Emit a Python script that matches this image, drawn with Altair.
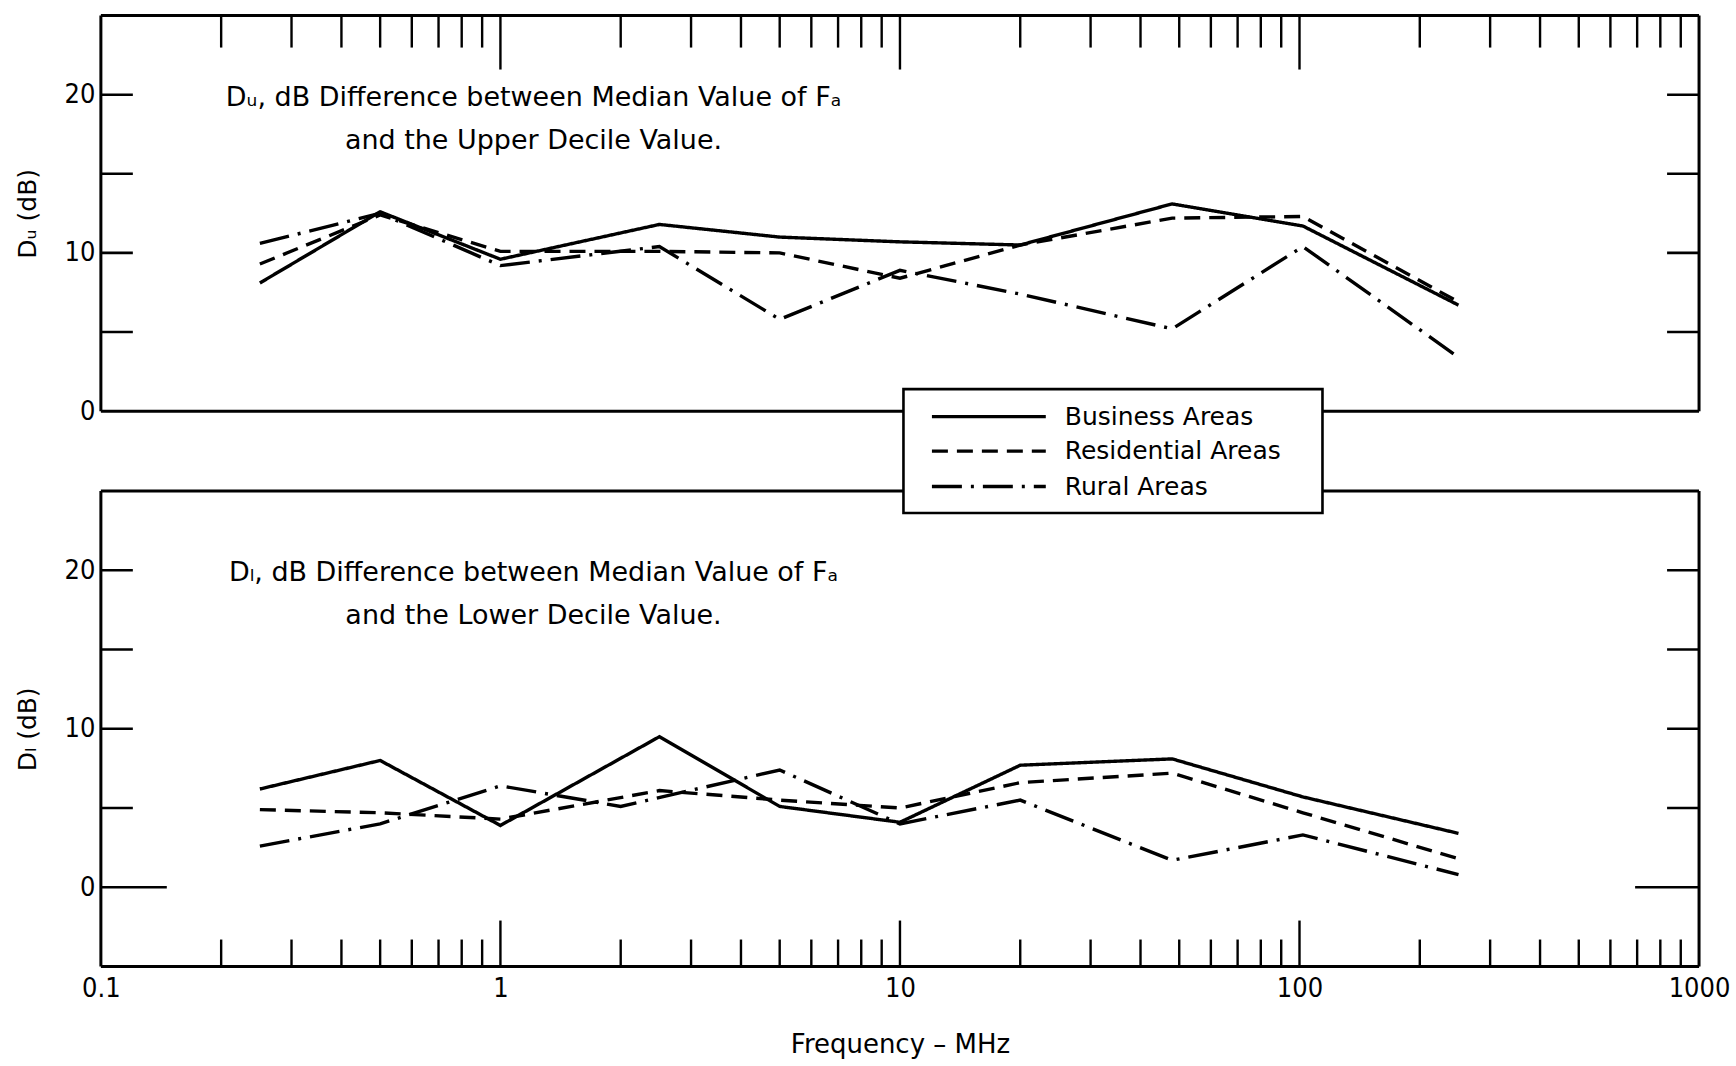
import altair as alt
import pandas as pd

# ---------------- data ----------------
freqs = [0.25, 0.5, 1, 2.5, 5, 10, 20, 48, 102, 250]          # MHz
freqs_rural_lower = [0.25, 0.5, 1, 2, 5, 10, 20, 48, 102, 250]

series_names = ["Business Areas", "Residential Areas", "Rural Areas"]

du_business = [8.1, 12.6, 9.6, 11.8, 11.0, 10.7, 10.5, 13.1, 11.7, 6.7]
du_residential = [9.3, 12.4, 10.1, 10.1, 10.0, 8.4, 10.5, 12.2, 12.3, 6.9]
du_rural = [10.6, 12.5, 9.2, 10.4, 5.8, 8.9, 7.4, 5.2, 10.4, 3.4]

dl_business = [6.2, 8.0, 3.9, 9.5, 5.1, 4.1, 7.7, 8.1, 5.7, 3.4]
dl_residential = [4.9, 4.7, 4.3, 6.1, 5.5, 5.0, 6.6, 7.2, 4.7, 1.8]
dl_rural = [2.6, 4.0, 6.4, 5.1, 7.4, 4.0, 5.5, 1.7, 3.3, 0.8]

x_labels = [0.1, 1, 10, 100, 1000]
y_labels = [0, 10, 20]
y_minor = [5, 10, 15, 20]
decades = [1, 10, 100]
minor_x = [m * 10 ** k for k in range(-1, 3) for m in range(2, 10)]

note_upper = ["Dᵤ, dB Difference between Median Value of Fₐ",
              "and the Upper Decile Value."]
note_lower = ["Dₗ, dB Difference between Median Value of Fₐ",
              "and the Lower Decile Value."]

# ---------------- tables ----------------
def series_frame(xs_list, vals_list):
    rows = []
    for name, xs, vals in zip(series_names, xs_list, vals_list):
        for f, v in zip(xs, vals):
            rows.append({"freq": f, "value": v, "series": name})
    return pd.DataFrame(rows)

upper_df = series_frame([freqs, freqs, freqs], [du_business, du_residential, du_rural])
lower_df = series_frame([freqs, freqs, freqs_rural_lower], [dl_business, dl_residential, dl_rural])

FONT = "DejaVu Sans"
NUM_FONT = "Liberation Sans Narrow, DejaVu Sans Condensed, sans-serif"
XMIN, XMAX = 0.1, 1000
W = 1600
PX_PER_DEC = W / 4.0


def xoff(px):
    # multiplicative factor in log space equal to px pixels
    return 10 ** (px / PX_PER_DEC)


dash_scale = alt.Scale(domain=series_names, range=[[1, 0], [16, 9], [30, 9, 3, 9]])


def panel(df, ymin, ymax, height, title, notes, show_x, tick_side, extra=None):
    upp = height / (ymax - ymin)  # pixels per unit
    xscale = alt.Scale(type="log", domain=[XMIN, XMAX], nice=False)
    yscale = alt.Scale(domain=[ymin, ymax], nice=False, zero=False)
    if show_x:
        xaxis = alt.Axis(values=x_labels, format="~g", ticks=False, domain=False, grid=False,
                         labelFont=NUM_FONT, labelFontSize=27, labelPadding=9, labelFlush=False,
                         labelColor="black", title="Frequency – MHz", titleFont=FONT,
                         titleFontSize=26, titleFontWeight="normal", titlePadding=30,
                         titleColor="black")
    else:
        xaxis = None
    yaxis = alt.Axis(values=y_labels, ticks=False, domain=False, grid=False,
                     labelFont=NUM_FONT, labelFontSize=27, labelPadding=6, labelColor="black",
                     title=title, titleFont=FONT, titleFontSize=25, titleFontWeight="normal",
                     titlePadding=24, titleColor="black")
    X = lambda f: alt.X(f, scale=xscale, axis=xaxis, title="Frequency – MHz")
    Y = lambda f: alt.Y(f, scale=yscale, axis=yaxis, title=title)

    lines = alt.Chart(df).mark_line(color="black", strokeWidth=3.4).encode(
        x=X("freq:Q"), y=Y("value:Q"),
        strokeDash=alt.StrokeDash("series:N", scale=dash_scale, legend=None),
        detail="series:N",
    )

    # frame
    hb = pd.DataFrame({"x": [XMIN, XMIN], "x2": [XMAX, XMAX], "y": [ymin, ymax]})
    vb = pd.DataFrame({"x": [XMIN, XMAX], "y": [ymin, ymin], "y2": [ymax, ymax]})
    hframe = alt.Chart(hb).mark_rule(color="black", strokeWidth=3).encode(
        x=X("x:Q"), x2="x2:Q", y=Y("y:Q"))
    vframe = alt.Chart(vb).mark_rule(color="black", strokeWidth=3).encode(
        x=X("x:Q"), y=Y("y:Q"), y2="y2:Q")

    # x ticks inside (top edge for upper panel, bottom edge for lower)
    rows = []
    if tick_side == "top":
        minor_len, major_len, edge, sgn = 32, 54, ymax, -1
    else:
        minor_len, major_len, edge, sgn = 27, 46, ymin, 1
    for t in minor_x:
        rows.append({"x": t, "y": edge, "y2": edge + sgn * minor_len / upp})
    for t in decades:
        rows.append({"x": t, "y": edge, "y2": edge + sgn * major_len / upp})
    xt = alt.Chart(pd.DataFrame(rows)).mark_rule(color="black", strokeWidth=2.4).encode(
        x=X("x:Q"), y=Y("y:Q"), y2="y2:Q")

    # y ticks inside on both sides
    yrows = []
    for v in y_minor:
        if v <= ymin or v >= ymax:
            continue
        yrows.append({"x": XMIN, "x2": XMIN * xoff(32), "y": v})
        yrows.append({"x": XMAX / xoff(32), "x2": XMAX, "y": v})
    if ymin < 0:
        yrows.append({"x": XMIN, "x2": XMIN * xoff(66), "y": 0})
        yrows.append({"x": XMAX / xoff(64), "x2": XMAX, "y": 0})
    yt = alt.Chart(pd.DataFrame(yrows)).mark_rule(color="black", strokeWidth=2.6).encode(
        x=X("x:Q"), x2="x2:Q", y=Y("y:Q"))

    # annotation
    note_df = pd.DataFrame({"x": [1.21, 1.21], "y": [19.8, 17.1], "t": notes})
    note = alt.Chart(note_df).mark_text(font=FONT, fontSize=27, align="center",
                                         baseline="middle", color="black").encode(
        x=X("x:Q"), y=Y("y:Q"), text="t:N")

    layers = [hframe, vframe, xt, yt, lines, note]
    if extra:
        layers += extra
    return alt.layer(*layers).properties(width=W, height=height)


# legend (drawn in the lower panel, straddling the gap between panels)
legend_layers = [
    alt.Chart().mark_rect(fill="white", stroke="black", strokeWidth=2.6).encode(
        x=alt.value(803.5), x2=alt.value(1223), y=alt.value(-102), y2=alt.value(22))
]
legend_dashes = [[1, 0], [16, 9], [30, 9, 3, 9]]
legend_rows = [-74.5, -40, -4.5]
for name, dash, ry in zip(series_names, legend_dashes, legend_rows):
    legend_layers.append(
        alt.Chart().mark_rule(color="black", strokeWidth=3.4, strokeDash=dash).encode(
            x=alt.value(832), x2=alt.value(946), y=alt.value(ry)))
    legend_layers.append(
        alt.Chart().mark_text(font=FONT, fontSize=25, align="left", baseline="middle",
                              color="black").encode(
            x=alt.value(965), y=alt.value(ry), text=alt.value(name)))

top = panel(upper_df, 0, 25, 396, "Dᵤ (dB)", note_upper, False, "top")
bottom = panel(lower_df, -5, 25, 476, "Dₗ (dB)", note_lower, True, "bottom", legend_layers)

chart = alt.vconcat(top, bottom, spacing=80, bounds="flush").configure_view(
    strokeWidth=0
).configure(
    background="white", padding={"left": 14, "top": 13, "right": 5, "bottom": 5}
)

chart.save("out.html", embed_options={"renderer": "svg", "actions": False})
